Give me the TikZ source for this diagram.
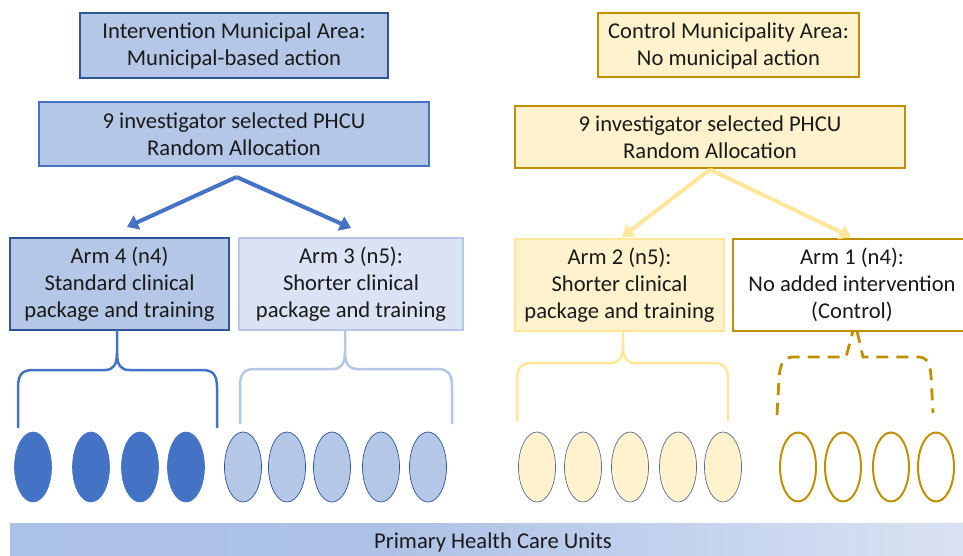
\documentclass[tikz,border=0pt]{standalone}
\usepackage{fontspec}
\setmainfont{Carlito}
\usetikzlibrary{arrows.meta,calc,shapes.geometric}
\definecolor{darkblue}{HTML}{2F5597}
\definecolor{midblue}{HTML}{4472C4}
\definecolor{lightblue}{HTML}{B4C7E7}
\definecolor{paleblue}{HTML}{DAE3F3}
\definecolor{gold}{HTML}{BF9000}
\definecolor{lightyellow}{HTML}{FFE699}
\definecolor{cream}{HTML}{FFF2CC}
\definecolor{slate}{HTML}{5A6E90}
\definecolor{txt}{HTML}{1A1A1A}
\definecolor{barA}{HTML}{C9D6EE}
\definecolor{barB}{HTML}{ABC0E6}
\definecolor{barC}{HTML}{AEC2E7}
\definecolor{barD}{HTML}{DDE5F4}
\definecolor{barE}{HTML}{BACBEA}
\pgfdeclarehorizontalshading{barshade}{100bp}{%
  color(0bp)=(barA); color(10bp)=(barB); color(45bp)=(barC);
  color(78bp)=(barD); color(100bp)=(barE)}
% brace: #1 style, #2 left x, #3 right x, #4 tip x, #5 top y, #6 bar y, #7 end y
\newcommand\mybrace[7]{%
  \draw[#1] (#2,#7) -- (#2,#6+17) .. controls (#2,#6+4) and (#2+5,#6) .. (#2+15,#6)
    -- (#4-12,#6) .. controls (#4-4,#6) and (#4,#6-5) .. (#4,#6-17) -- (#4,#5);
  \draw[#1] (#4,#6-17) .. controls (#4,#6-5) and (#4+4,#6) .. (#4+12,#6)
    -- (#3-15,#6) .. controls (#3-5,#6) and (#3,#6+4) .. (#3,#6+17) -- (#3,#7);}
\begin{document}
\begin{tikzpicture}[x=1pt,y=-1pt,
  box/.style={draw, line width=2pt, align=center, inner sep=0pt,
    font=\fontsize{22.6}{27}\selectfont, text=txt},
  barrow/.style={midblue, line width=4pt, -{Triangle[width=15pt,length=11pt]}},
  yarrow/.style={lightyellow, line width=4pt, -{Triangle[width=15pt,length=11pt]}},
  unitA/.style={ellipse, fill=midblue, draw=midblue, line width=0.6pt, minimum width=37pt, minimum height=70pt, inner sep=0pt},
  unitB/.style={ellipse, fill=lightblue, draw=darkblue, line width=0.7pt, minimum width=37pt, minimum height=70pt, inner sep=0pt},
  unitC/.style={ellipse, fill=cream, draw=slate, line width=0.7pt, minimum width=37pt, minimum height=70pt, inner sep=0pt},
  unitD/.style={ellipse, fill=white, draw=gold, line width=2pt, minimum width=36pt, minimum height=69pt, inner sep=0pt},
  ]
\useasboundingbox (0,0) rectangle (963,556);
\clip (0,0) rectangle (963,556);

% top boxes
\node[box, fill=lightblue, draw=darkblue, minimum width=308pt, minimum height=65pt] (im) at (234,46)
  {Intervention Municipal Area:\\Municipal-based action};
\node[box, fill=lightblue, draw=midblue, minimum width=390pt, minimum height=64pt] (il) at (234,134.5)
  {9 investigator selected PHCU\\Random Allocation};
\node[box, fill=cream, draw=gold, minimum width=261pt, minimum height=64pt] (cm) at (728.5,45.5)
  {Control Municipality Area:\\No municipal action};
\node[box, fill=cream, draw=gold, minimum width=390pt, minimum height=62pt] (cl) at (710,137.5)
  {9 investigator selected PHCU\\Random Allocation};

% arm boxes
\node[box, fill=lightblue, draw=darkblue, minimum width=219pt, minimum height=92pt] (a4) at (119.5,284)
  {Arm 4 (n4)\\Standard clinical\\package and training};
\node[box, fill=paleblue, draw=lightblue, minimum width=224pt, minimum height=92pt] (a3) at (351,284)
  {Arm 3 (n5):\\Shorter clinical\\package and training};
\node[box, fill=cream, draw=lightyellow, minimum width=209pt, minimum height=92pt] (a2) at (619.5,285)
  {Arm 2 (n5):\\Shorter clinical\\package and training};
\node[box, fill=white, draw=gold, minimum width=238pt, minimum height=92pt] (a1) at (852,284.5)
  {Arm 1 (n4):\\No added intervention\\(Control)};

% arrows
\coordinate (lsrc) at (236.5,177);
\coordinate (l4) at (127,227);
\coordinate (l3) at (351,228);
\coordinate (r2) at (622,237);
\coordinate (r1) at (851,237);
\draw[barrow] (lsrc) -- (l4);
\draw[barrow] (lsrc) -- (l3);
\draw[yarrow] (cl.south) -- (r2);
\draw[yarrow] (cl.south) -- (r1);

% braces
\mybrace{midblue, line width=2.5pt}{18}{217}{117}{330}{370}{428}
\mybrace{lightblue, line width=2.5pt}{240}{452}{345}{330}{369}{424}
\mybrace{lightyellow, line width=2.5pt}{517}{728}{623}{331}{363}{421}
\draw[gold, line width=2.8pt, dash pattern=on 12pt off 8pt]
  (777,415) -- (779,378) .. controls (780,365) and (783,357) .. (793,357) -- (846,357) -- (853,331);
\draw[gold, line width=2.8pt, dash pattern=on 12pt off 8pt]
  (857,331) -- (863,357) -- (918,357) .. controls (927,357) and (930,363) .. (931,376) -- (933,413);

% units
\foreach \x [count=\i] in {33,91,140,186} \node[unitA] (ua\i) at (\x,467) {};
\foreach \x [count=\i] in {243,287,332,381,428} \node[unitB] (ub\i) at (\x,467) {};
\foreach \x [count=\i] in {537,583,630,678,723} \node[unitC] (uc\i) at (\x,467) {};
\foreach \x [count=\i] in {798,843,891,936} \node[unitD] (ud\i) at (\x,467) {};

% bottom bar
\shade[shading=barshade] (10,523) rectangle (963,560);
\node[font=\fontsize{22.6}{27}\selectfont, text=txt] (phcu) at (493,542) {Primary Health Care Units};
\end{tikzpicture}
\end{document}
